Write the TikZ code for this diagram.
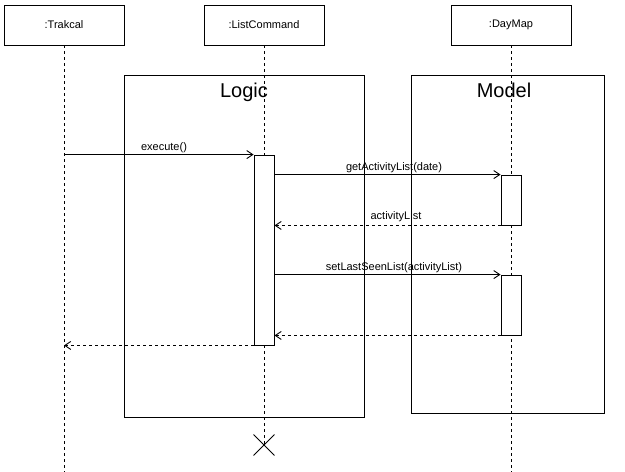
\documentclass[tikz,border=0pt]{standalone}
\usepackage{fontspec}
\setmainfont{Liberation Sans}
\usetikzlibrary{arrows.meta,shapes.misc}
\begin{document}
\begin{tikzpicture}[x=1pt,y=-1pt,
  obj/.style={draw, line width=0.9pt, minimum width=120pt, minimum height=40pt, inner sep=0pt, font=\fontsize{11}{13}\selectfont},
  frm/.style={draw, line width=0.9pt, inner sep=0pt},
  frmtitle/.style={font=\fontsize{20}{24}\selectfont, inner sep=0pt, anchor=base},
  life/.style={line width=0.8pt, dash pattern=on 3pt off 3pt},
  act/.style={draw, fill=white, line width=0.9pt, minimum width=20pt, inner sep=0pt},
  msg/.style={line width=0.9pt, -{Straight Barb[length=6pt,width=8pt]}},
  ret/.style={msg, dash pattern=on 3pt off 3pt},
  lbl/.style={font=\fontsize{11}{13}\selectfont, inner sep=0pt, anchor=base},
  destroy/.style={cross out, draw, line width=0.9pt, minimum size=20pt, inner sep=0pt}]
\useasboundingbox (0,0) rectangle (625,472);
% frames
\node[frm, minimum width=240pt, minimum height=342pt] (logic) at (244,246) {};
\node[frmtitle] (logict) at (244,97) {Logic};
\node[frm, minimum width=193pt, minimum height=338pt] (model) at (507.5,244) {};
\node[frmtitle] (modelt) at (504,97) {Model};
% objects
\node[obj] (tr) at (64,25) {:Trakcal};
\node[obj] (lc) at (264,25) {:ListCommand};
\node[obj] (dm) at (511,25) {:DayMap};
% lifeline ends
\coordinate (trend) at (64,472);
\coordinate (dmend) at (511,472);
\coordinate (lcend) at (264,445);
\draw[life] (tr.south) -- (trend);
\draw[life] (lc.south) -- (lcend);
\draw[life] (dm.south) -- (dmend);
\node[destroy] (dx) at (lcend) {};
% activations
\node[act, minimum height=190pt] (a1) at (264,250) {};
\node[act, minimum height=50pt] (a2) at (511,200) {};
\node[act, minimum height=60pt] (a3) at (511,305) {};
% messages
\draw[msg] (tr.south |- a1.north) -- (a1.north west);
\node[lbl] (l1) at (164,150) {execute()};
\draw[msg] (a1.east |- a2.north) -- (a2.north west);
\node[lbl] (l2) at (394,170) {getActivityList(date)};
\draw[ret] (a2.south west) -- (a1.east |- a2.south);
\node[lbl] (l3) at (396,219) {activityList};
\draw[msg] (a1.east |- a3.north) -- (a3.north west);
\node[lbl] (l4) at (394,270) {setLastSeenList(activityList)};
\draw[ret] (a3.south west) -- (a1.east |- a3.south);
\draw[ret] (a1.south west) -- (tr.south |- a1.south);
\end{tikzpicture}
\end{document}
